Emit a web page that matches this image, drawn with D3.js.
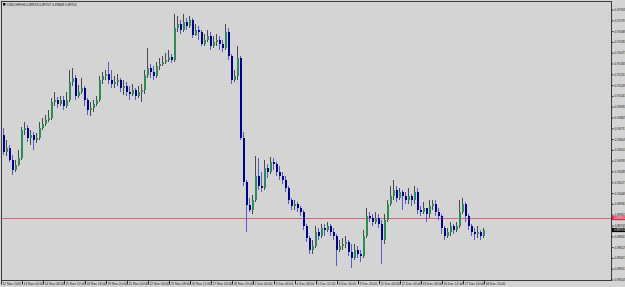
<!DOCTYPE html>
<html>
<head>
<meta charset="utf-8">
<script src="https://cdn.jsdelivr.net/npm/d3@7"></script>
<style>
  html, body { margin: 0; padding: 0; background: #d4d4d4; }
  svg { display: block; }
  text { font-family: "Liberation Sans", Arial, sans-serif; fill: #111; }
</style>
</head>
<body>
<div id="chart"></div>
<script>
const width = 625;
const height = 287;

const symbolTitle = "USDCHF,H4  0.89674 0.89707 0.89668 0.89701";

// H4 bars, 12 Nov 2013 onwards
const opens = [0.9065,
  0.9048,0.9052,0.9040,0.9030,0.9035,0.9042,0.9070,0.9072,0.9062,0.9065,0.9060,0.9062,0.9072,0.9076,0.9080,0.9082,0.9098,0.9100,0.9096,0.9100,
  0.9094,0.9100,0.9118,0.9122,0.9104,0.9108,0.9112,0.9100,0.9090,0.9092,0.9096,0.9100,0.9120,0.9124,0.9126,0.9120,0.9116,0.9118,0.9120,0.9112,
  0.9114,0.9108,0.9106,0.9110,0.9104,0.9108,0.9110,0.9125,0.9132,0.9128,0.9124,0.9134,0.9136,0.9138,0.9140,0.9143,0.9140,0.9172,0.9176,0.9170,
  0.9178,0.9174,0.9180,0.9165,0.9170,0.9168,0.9156,0.9160,0.9164,0.9154,0.9158,0.9160,0.9156,0.9152,0.9168,0.9144,0.9120,0.9124,0.9142,0.9062,
  0.9018,0.8995,0.8990,0.9000,0.9024,0.9014,0.9012,0.9032,0.9028,0.9038,0.9036,0.9028,0.9024,0.9020,0.9012,0.9000,0.8994,0.8996,0.8992,0.8988,
  0.8974,0.8962,0.8950,0.8954,0.8968,0.8964,0.8972,0.8970,0.8974,0.8968,0.8964,0.8950,0.8954,0.8956,0.8958,0.8948,0.8942,0.8950,0.8946,0.8944,
  0.8964,0.8984,0.8982,0.8978,0.8982,0.8976,0.8960,0.8980,0.8996,0.9004,0.9010,0.9002,0.9008,0.9004,0.9000,0.9004,0.9000,0.9008,0.8990,0.8988,
  0.8992,0.8986,0.8994,0.8996,0.8988,0.8984,0.8972,0.8964,0.8968,0.8974,0.8970,0.8974,0.8988,0.8996,0.8984,0.8974,0.8968,0.8966,0.8968,0.8964];

const closes = [
  0.9048,0.9052,0.9040,0.9030,0.9035,0.9042,0.9070,0.9072,0.9062,0.9065,0.9060,0.9062,0.9072,0.9076,0.9080,0.9082,0.9098,0.9100,0.9096,0.9100,
  0.9094,0.9100,0.9118,0.9122,0.9104,0.9108,0.9112,0.9100,0.9090,0.9092,0.9096,0.9100,0.9120,0.9124,0.9126,0.9120,0.9116,0.9118,0.9120,0.9112,
  0.9114,0.9108,0.9106,0.9110,0.9104,0.9108,0.9110,0.9125,0.9132,0.9128,0.9124,0.9134,0.9136,0.9138,0.9140,0.9143,0.9140,0.9172,0.9176,0.9170,
  0.9178,0.9174,0.9180,0.9165,0.9170,0.9168,0.9156,0.9160,0.9164,0.9154,0.9158,0.9160,0.9156,0.9152,0.9168,0.9144,0.9120,0.9124,0.9142,0.9062,
  0.9018,0.8995,0.8990,0.9000,0.9024,0.9014,0.9012,0.9032,0.9028,0.9038,0.9036,0.9028,0.9024,0.9020,0.9012,0.9000,0.8994,0.8996,0.8992,0.8988,
  0.8974,0.8962,0.8950,0.8954,0.8968,0.8964,0.8972,0.8970,0.8974,0.8968,0.8964,0.8950,0.8954,0.8956,0.8958,0.8948,0.8942,0.8950,0.8946,0.8944,
  0.8964,0.8984,0.8982,0.8978,0.8982,0.8976,0.8960,0.8980,0.8996,0.9004,0.9010,0.9002,0.9008,0.9004,0.9000,0.9004,0.9000,0.9008,0.8990,0.8988,
  0.8992,0.8986,0.8994,0.8996,0.8988,0.8984,0.8972,0.8964,0.8968,0.8974,0.8970,0.8974,0.8988,0.8996,0.8984,0.8974,0.8968,0.8966,0.8968,0.8964,
  0.8970];

const highs = [
  0.9072,0.9060,0.9055,0.9045,0.9040,0.9050,0.9073,0.9078,0.9075,0.9070,0.9068,0.9067,0.9078,0.9082,0.9085,0.9090,0.9102,0.9108,0.9103,0.9104,
  0.9104,0.9108,0.9130,0.9132,0.9125,0.9115,0.9122,0.9114,0.9102,0.9098,0.9100,0.9104,0.9124,0.9128,0.9130,0.9138,0.9130,0.9124,0.9126,0.9122,
  0.9120,0.9118,0.9114,0.9116,0.9112,0.9114,0.9116,0.9130,0.9152,0.9136,0.9134,0.9138,0.9142,0.9144,0.9147,0.9150,0.9146,0.9186,0.9184,0.9180,
  0.9186,0.9182,0.9184,0.9182,0.9176,0.9174,0.9170,0.9166,0.9170,0.9168,0.9164,0.9166,0.9164,0.9160,0.9176,0.9172,0.9146,0.9130,0.9154,0.9144,
  0.9068,0.9020,0.9002,0.9005,0.9044,0.9042,0.9028,0.9040,0.9036,0.9043,0.9042,0.9038,0.9034,0.9028,0.9024,0.9014,0.9002,0.9000,0.8998,0.8994,
  0.8990,0.8976,0.8964,0.8960,0.8974,0.8972,0.8976,0.8976,0.8978,0.8976,0.8972,0.8966,0.8960,0.8962,0.8964,0.8960,0.8956,0.8956,0.8954,0.8950,
  0.8970,0.8992,0.8988,0.8986,0.8988,0.8986,0.8980,0.8986,0.9000,0.9014,0.9020,0.9014,0.9012,0.9010,0.9008,0.9012,0.9006,0.9014,0.9012,0.8994,
  0.8998,0.8992,0.9000,0.9000,0.9000,0.8992,0.8986,0.8974,0.8972,0.8978,0.8976,0.8978,0.9000,0.9002,0.8998,0.8986,0.8976,0.8972,0.8974,0.8970,
  0.8972];

const lows = [
  0.9045,0.9044,0.9038,0.9025,0.9028,0.9034,0.9040,0.9065,0.9058,0.9055,0.9050,0.9057,0.9060,0.9070,0.9074,0.9078,0.9080,0.9094,0.9092,0.9094,
  0.9090,0.9092,0.9098,0.9114,0.9100,0.9102,0.9106,0.9094,0.9085,0.9084,0.9088,0.9094,0.9098,0.9116,0.9120,0.9116,0.9112,0.9112,0.9114,0.9108,
  0.9105,0.9104,0.9100,0.9104,0.9100,0.9102,0.9098,0.9106,0.9122,0.9122,0.9120,0.9122,0.9130,0.9134,0.9136,0.9138,0.9137,0.9138,0.9168,0.9166,
  0.9168,0.9170,0.9172,0.9162,0.9164,0.9160,0.9154,0.9154,0.9158,0.9150,0.9152,0.9154,0.9150,0.9148,0.9150,0.9140,0.9116,0.9118,0.9120,0.9060,
  0.9014,0.8968,0.8988,0.8986,0.8998,0.9010,0.9008,0.9010,0.9022,0.9026,0.9030,0.9024,0.9020,0.9016,0.9008,0.8996,0.8990,0.8990,0.8988,0.8984,
  0.8970,0.8958,0.8946,0.8946,0.8952,0.8960,0.8962,0.8964,0.8968,0.8964,0.8960,0.8934,0.8948,0.8950,0.8952,0.8944,0.8932,0.8940,0.8942,0.8938,
  0.8942,0.8962,0.8978,0.8974,0.8976,0.8972,0.8936,0.8956,0.8978,0.8994,0.9000,0.8998,0.9000,0.8990,0.8996,0.8996,0.8994,0.8996,0.8986,0.8984,
  0.8986,0.8978,0.8982,0.8990,0.8984,0.8980,0.8966,0.8960,0.8962,0.8964,0.8966,0.8968,0.8972,0.8986,0.8978,0.8970,0.8964,0.8960,0.8962,0.8960,
  0.8962];

// right-hand price scale labels
const priceTicks = [0.91905,0.91797,0.91689,0.91581,0.91473,0.91365,0.91257,0.91149,0.91041,0.90933,0.90825,0.90717,0.90609,
  0.90501,0.90393,0.90285,0.90177,0.90069,0.89961,0.89853,0.89745,0.89637,0.89529,0.89421,0.89313,0.89205];

// time scale labels, one every 7 bars
const timeLabels = ["12 Nov 2013","13 Nov 04:00","14 Nov 08:00","15 Nov 12:00","18 Nov 16:00","19 Nov 20:00",
  "21 Nov 00:00","22 Nov 04:00","25 Nov 08:00","26 Nov 12:00","27 Nov 16:00","28 Nov 20:00","2 Dec 00:00",
  "3 Dec 04:00","4 Dec 08:00","5 Dec 12:00","6 Dec 16:00","9 Dec 20:00","11 Dec 00:00","12 Dec 04:00",
  "13 Dec 08:00","16 Dec 12:00","17 Dec 16:00","18 Dec 20:00"];
const labelStep = 7;

const askLine = 0.89820;
const bidPrice = 0.89701;

const candles = closes.map((c, i) => ({ i, o: opens[i], h: highs[i], l: lows[i], c }));

const plot = { left: 1.5, top: 1.5, right: 611.5, bottom: 280.5 };

const svg = d3.select("#chart").append("svg")
  .attr("width", width)
  .attr("height", height);

svg.append("rect").attr("width", width).attr("height", height).attr("fill", "#d4d4d4");

const x = d3.scaleLinear().domain([0, 203]).range([3, 612]);
const y = d3.scaleLinear().domain([0.8920, 0.9200]).range([280, 0]);

svg.append("clipPath").attr("id", "plotClip")
  .append("rect")
  .attr("x", plot.left).attr("y", plot.top)
  .attr("width", plot.right - plot.left).attr("height", plot.bottom - plot.top);

const g = svg.append("g").attr("clip-path", "url(#plotClip)").attr("shape-rendering", "crispEdges");

// ask level line
g.append("line")
  .attr("x1", plot.left).attr("x2", plot.right)
  .attr("y1", Math.round(y(askLine)) + 0.5).attr("y2", Math.round(y(askLine)) + 0.5)
  .attr("stroke", "#d9647c").attr("stroke-width", 1);

const bull = d => d.c >= d.o;

const candle = g.selectAll("g.candle")
  .data(candles)
  .join("g")
  .attr("class", "candle");

candle.append("line")
  .attr("x1", d => Math.round(x(d.i)) + 0.5)
  .attr("x2", d => Math.round(x(d.i)) + 0.5)
  .attr("y1", d => y(d.h))
  .attr("y2", d => y(d.l))
  .attr("stroke", d => bull(d) ? "#4a4a4a" : "#5a5ad0");

candle.append("rect")
  .attr("x", d => Math.round(x(d.i)))
  .attr("y", d => y(Math.max(d.o, d.c)))
  .attr("width", 2)
  .attr("height", d => Math.max(1, Math.abs(y(d.o) - y(d.c))))
  .attr("fill", d => bull(d) ? "#2e8b57" : "#000088");

// frame
svg.append("rect")
  .attr("x", plot.left).attr("y", plot.top)
  .attr("width", plot.right - plot.left).attr("height", plot.bottom - plot.top)
  .attr("fill", "none").attr("stroke", "#3a3a3a").attr("stroke-width", 1)
  .attr("shape-rendering", "crispEdges");

// price axis
const yAxis = svg.append("g")
  .attr("transform", `translate(${plot.right},0)`)
  .call(d3.axisRight(y).tickValues(priceTicks).tickSize(2).tickPadding(1).tickFormat(d3.format(".5f")));
yAxis.select(".domain").remove();
yAxis.selectAll("line").attr("stroke", "#333");
yAxis.selectAll("text").attr("font-size", 3.2).attr("fill", "#111").attr("font-family", "Liberation Sans, Arial, sans-serif");

// time axis
const xAxis = svg.append("g")
  .attr("transform", `translate(0,${plot.bottom})`)
  .call(d3.axisBottom(x)
    .tickValues(timeLabels.map((_, k) => k * labelStep))
    .tickSize(4)
    .tickFormat((_, k) => timeLabels[k]));
xAxis.select(".domain").remove();
xAxis.selectAll("line").attr("stroke", "#333").attr("transform", "translate(-2,0)");
xAxis.selectAll("text")
  .attr("font-size", 3.3)
  .attr("fill", "#111")
  .attr("font-family", "Liberation Sans, Arial, sans-serif")
  .attr("text-anchor", "start")
  .attr("x", -1)
  .attr("y", 2.5);

// price tags on the right
function priceTag(price, fill) {
  const py = y(price);
  svg.append("rect")
    .attr("x", plot.right + 0.5).attr("y", py - 2)
    .attr("width", 14).attr("height", 4.2)
    .attr("fill", fill);
  svg.append("text")
    .attr("x", plot.right + 2.5).attr("y", py + 1.1)
    .attr("font-size", 3.1)
    .style("fill", "#fff")
    .text(d3.format(".5f")(price));
}
priceTag(askLine, "#e02c4c");
priceTag(bidPrice, "#000");

// symbol title
svg.append("rect").attr("x", 3).attr("y", 3).attr("width", 2.5).attr("height", 2.5).attr("fill", "#111");
svg.append("text")
  .attr("x", 7).attr("y", 5.6)
  .attr("font-size", 3.3)
  .text(symbolTitle);
</script>
</body>
</html>
